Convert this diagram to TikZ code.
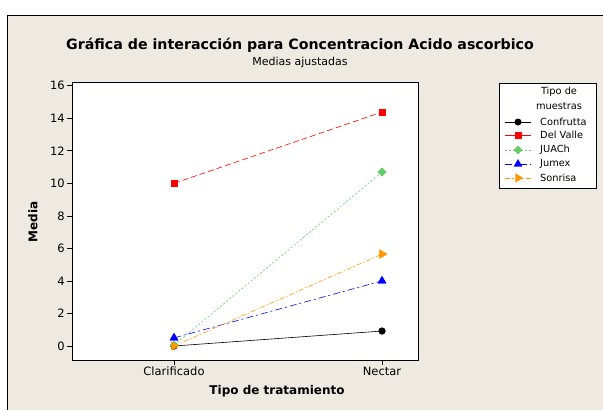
\documentclass[tikz,border=0pt]{standalone}
\usepackage{fontspec}
\setmainfont{DejaVu Sans}
\usetikzlibrary{shapes.geometric,calc}
\definecolor{fondo}{RGB}{238,234,225}
\definecolor{verdej}{RGB}{102,204,102}
\definecolor{naranja}{RGB}{255,153,0}
\tikzset{
    marca/.style={inner sep=0pt, minimum size=#1},
    mconf/.style={circle, fill=black, marca=7pt},
    mdelv/.style={rectangle, fill=red, marca=7pt},
    mjuac/.style={diamond, fill=verdej, marca=9pt},
    mjumx/.style={regular polygon, regular polygon sides=3, fill=blue, marca=10pt},
    msonr/.style={isosceles triangle, isosceles triangle apex angle=60, fill=naranja, inner sep=0pt, minimum height=8pt},
    lconf/.style={black, line width=0.6pt},
    ldelv/.style={red, line width=0.6pt, dash pattern=on 6pt off 3pt},
    ljuac/.style={verdej, line width=0.6pt, dash pattern=on 2pt off 2pt},
    ljumx/.style={blue, line width=0.6pt, dash pattern=on 7pt off 3pt on 2pt off 3pt},
    lsonr/.style={naranja, line width=0.6pt, dash pattern=on 5pt off 2pt on 1.5pt off 2pt},
    etiq/.style={font=\fontsize{11.5}{13}\selectfont, inner sep=0pt},
    etley/.style={font=\fontsize{9.8}{11}\selectfont, inner sep=0pt},
  }
\begin{document}
\begin{tikzpicture}[x=1pt, y=-1pt]
  % marco y fondo
  \useasboundingbox (0,0) rectangle (603,410);
  \fill[white] (0,0) rectangle (603,410);
  \draw[fill=fondo, line width=0.8pt] (7,15) rectangle (615,420);
  % titulo
  \node[font=\bfseries\fontsize{14.2}{16}\selectfont, inner sep=0pt] (titulo) at (300,45) {Gráfica de interacción para Concentracion Acido ascorbico};
  \node[etiq, font=\fontsize{11}{12}\selectfont] (subt) at (300,62) {Medias ajustadas};
  % area de la grafica
  \draw[fill=white, line width=0.6pt] (72,82) rectangle (418,360);
  \foreach \v in {0,2,...,16} {
    \draw[line width=0.6pt] (67,{346-16.27*\v}) -- (72,{346-16.27*\v});
    \node[etiq, anchor=east] (ty\v) at (65,{346-16.27*\v}) {\v};
  }
  \draw[line width=0.6pt] (174,360) -- (174,365);
  \draw[line width=0.6pt] (382,360) -- (382,365);
  \node[etiq, anchor=north] (tclar) at (174,367) {Clarificado};
  \node[etiq, anchor=north] (tnect) at (382,367) {Nectar};
  \node[etiq, font=\bfseries\fontsize{12}{13}\selectfont] (ejex) at (277,391) {Tipo de tratamiento};
  \node[etiq, font=\bfseries\fontsize{12}{13}\selectfont, rotate=90] (ejey) at (33,222) {Media};
  % datos
  \begin{scope}[shift={(174,346)}, x=208pt, y=16.27pt]
    \node[mconf] (cf1) at (0,0) {};
    \node[mconf] (cf2) at (1,0.92) {};
    \node[mdelv] (dv1) at (0,10) {};
    \node[mdelv] (dv2) at (1,14.38) {};
    \node[mjuac] (ju1) at (0,0.05) {};
    \node[mjuac] (ju2) at (1,10.69) {};
    \node[mjumx] (jx1) at (0,0.5) {};
    \node[mjumx] (jx2) at (1,4.0) {};
    \node[msonr] (so1) at (0,0) {};
    \node[msonr] (so2) at (1,5.65) {};
    \draw[lconf] (cf1.center) -- (cf2.center);
    \draw[ldelv] (dv1.center) -- (dv2.center);
    \draw[ljuac] (ju1.center) -- (ju2.center);
    \draw[ljumx] (jx1.center) -- (jx2.center);
    \draw[lsonr] (so1.center) -- (so2.center);
    \node[mconf] at (cf1) {};
    \node[mconf] at (cf2) {};
    \node[mdelv] at (dv1) {};
    \node[mdelv] at (dv2) {};
    \node[mjuac] at (ju1) {};
    \node[mjuac] at (ju2) {};
    \node[mjumx] at (jx1) {};
    \node[mjumx] at (jx2) {};
    \node[msonr] at (so1) {};
    \node[msonr] at (so2) {};
  \end{scope}
  % leyenda
  \draw[fill=white, line width=0.6pt] (499,83) rectangle (596,188);
  \node[etley] (ltit1) at (559,92) {Tipo de};
  \node[etley] (ltit2) at (559,106) {muestras};
  \coordinate (la1) at (505,122); \coordinate (lb1) at (531,122);
  \coordinate (la2) at (505,135); \coordinate (lb2) at (531,135);
  \coordinate (la3) at (505,150); \coordinate (lb3) at (531,150);
  \coordinate (la4) at (505,164); \coordinate (lb4) at (531,164);
  \coordinate (la5) at (505,178); \coordinate (lb5) at (531,178);
  \draw[lconf] (la1) -- (lb1); \node[mconf] (lm1) at ($(la1)!0.5!(lb1)$) {};
  \draw[ldelv, dash pattern=on 8pt off 0pt] (la2) -- (lb2); \node[mdelv] (lm2) at ($(la2)!0.5!(lb2)$) {};
  \draw[ljuac] (la3) -- (lb3); \node[mjuac] (lm3) at ($(la3)!0.5!(lb3)$) {};
  \draw[ljumx] (la4) -- (lb4); \node[mjumx] (lm4) at ($(la4)!0.5!(lb4)$) {};
  \draw[lsonr] (la5) -- (lb5); \node[msonr] (lm5) at ($(la5)!0.5!(lb5)$) {};
  \node[etley, anchor=west] (lt1) at (540,122) {Confrutta};
  \node[etley, anchor=west] (lt2) at (540,135) {Del Valle};
  \node[etley, anchor=west] (lt3) at (540,150) {JUACh};
  \node[etley, anchor=west] (lt4) at (540,164) {Jumex};
  \node[etley, anchor=west] (lt5) at (540,178) {Sonrisa};
\end{tikzpicture}
\end{document}
